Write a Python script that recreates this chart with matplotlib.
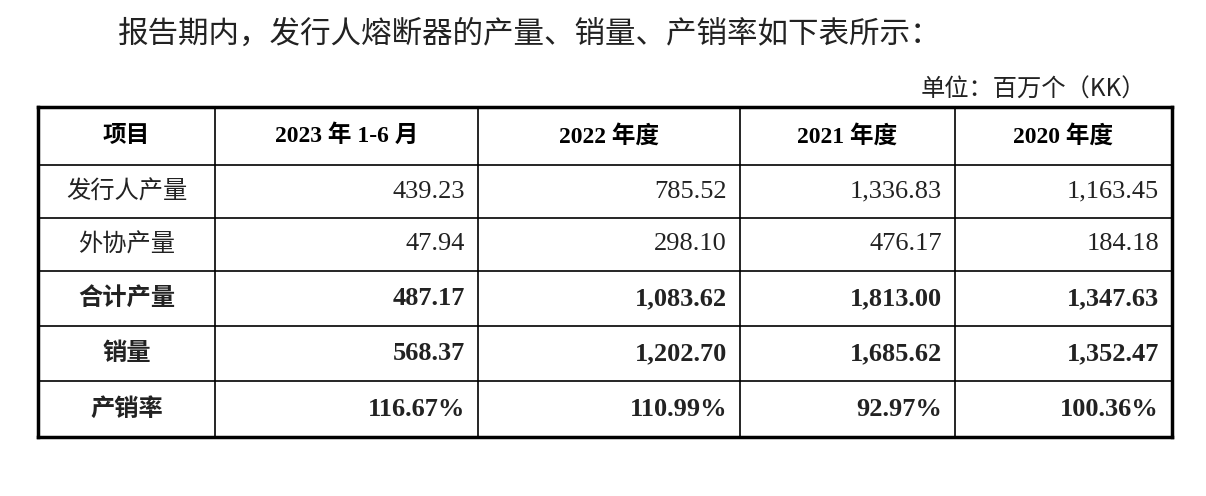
import matplotlib
matplotlib.use("Agg")
import matplotlib.pyplot as plt

title = "报告期内，发行人熔断器的产量、销量、产销率如下表所示："
unit = "单位：百万个（KK）"
headers = ["项目", "2023 年 1-6 月", "2022 年度", "2021 年度", "2020 年度"]
row_names = ["发行人产量", "外协产量", "合计产量", "销量", "产销率"]
row_bold = [False, False, True, True, True]
values = [
    ["439.23", "785.52", "1,336.83", "1,163.45"],
    ["47.94", "298.10", "476.17", "184.18"],
    ["487.17", "1,083.62", "1,813.00", "1,347.63"],
    ["568.37", "1,202.70", "1,685.62", "1,352.47"],
    ["116.67%", "110.99%", "92.97%", "100.36%"],
]

FAM = ["Liberation Serif", "Noto Sans CJK SC"]
CJK = ["Noto Sans CJK SC", "DejaVu Sans"]
fig = plt.figure(figsize=(12.06, 4.96), dpi=100)
ax = fig.add_axes([0, 0, 1, 1])
ax.set_xlim(0, 1206); ax.set_ylim(496, 0); ax.axis("off")

ax.text(118, 34, title, fontsize=22, family=CJK, va="center", ha="left", color="#222")
ax.text(1146, 90, unit, fontsize=17.5, family=CJK, va="center", ha="right", color="#222")

xs = [38, 215, 478, 740, 955, 1172]
ys = [107, 165, 218, 271, 326, 381, 437]
for x in xs:
    lw = 2.5 if x in (xs[0], xs[-1]) else 1.2
    ax.plot([x, x], [ys[0], ys[-1]], color="black", lw=lw)
for y in ys:
    lw = 2.5 if y in (ys[0], ys[-1]) else 1.2
    ax.plot([xs[0], xs[-1]], [y, y], color="black", lw=lw)

for i, h in enumerate(headers):
    cx = (xs[i] + xs[i + 1]) / 2
    ax.text(cx, (ys[0] + ys[1]) / 2, h, fontsize=17, family=FAM, weight="bold",
            ha="center", va="center")

for r, (name, vals) in enumerate(zip(row_names, values)):
    cy = (ys[r + 1] + ys[r + 2]) / 2
    w = "bold" if row_bold[r] else "normal"
    ax.text((xs[0] + xs[1]) / 2, cy, name, fontsize=17.5, family=FAM, weight=w,
            ha="center", va="center", color="#222")
    for c, v in enumerate(vals):
        ax.text(xs[c + 2] - 13, cy, v, fontsize=19, family=FAM, weight=w,
                ha="right", va="center", color="#222")

fig.savefig("out.png", dpi=100, facecolor="white")
